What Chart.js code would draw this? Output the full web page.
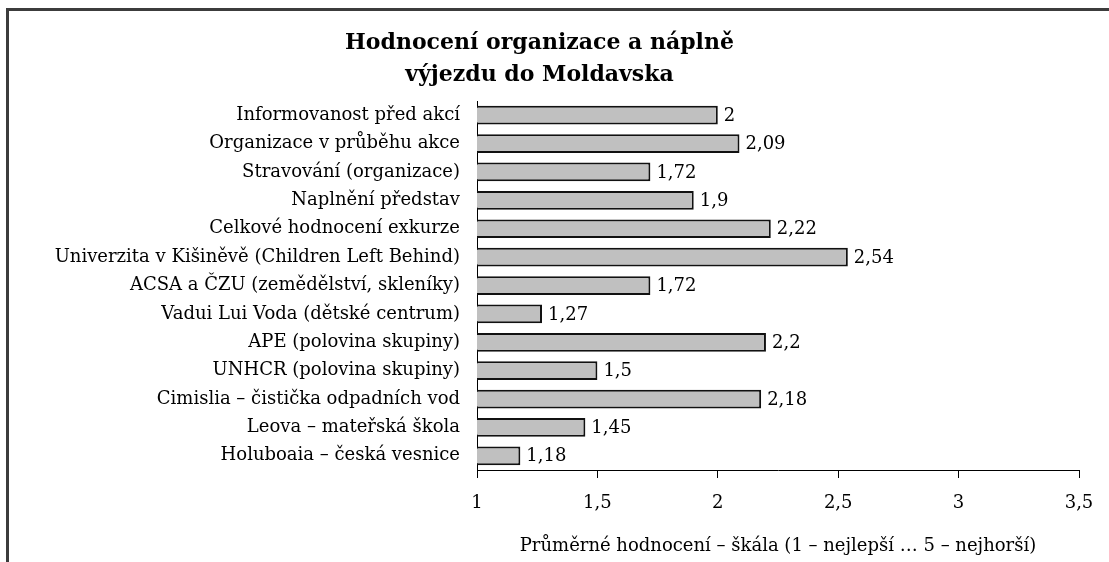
<!DOCTYPE html>
<html>
<head>
<meta charset="utf-8">
<script src="https://cdn.jsdelivr.net/npm/chart.js@4/dist/chart.umd.min.js"></script>
<style>
  html, body { margin: 0; padding: 0; background: #fff; overflow: hidden; width: 1109px; height: 562px; }
  #chart { position: absolute; left: 0; top: 0; }
  #ramecek { position: absolute; left: 6px; top: 8px; width: 1200px; height: 700px; border: 3px solid #3c3c3c; pointer-events: none; }
</style>
</head>
<body>
<canvas id="chart" width="1136" height="562"></canvas>
<div id="ramecek"></div>
<script>
// kategorie (shora dolů) a průměrné hodnocení
const kategorie = [
    'Informovanost před akcí',
    'Organizace v průběhu akce',
    'Stravování (organizace)',
    'Naplnění představ',
    'Celkové hodnocení exkurze',
    'Univerzita v Kišiněvě (Children Left Behind)',
    'ACSA a ČZU (zemědělství, skleníky)',
    'Vadui Lui Voda (dětské centrum)',
    'APE (polovina skupiny)',
    'UNHCR (polovina skupiny)',
    'Cimislia – čistička odpadních vod',
    'Leova – mateřská škola',
    'Holuboaia – česká vesnice'
];
const hodnoceni = [2, 2.09, 1.72, 1.9, 2.22, 2.54, 1.72, 1.27, 2.2, 1.5, 2.18, 1.45, 1.18];
const osaX = [1, 1.5, 2, 2.5, 3, 3.5];

const titulek = ['Hodnocení organizace a náplně', 'výjezdu do Moldavska'];
const popisOsy = 'Průměrné hodnocení – škála (1 – nejlepší … 5 – nejhorší)';

const pismo = "'DejaVu Serif', 'Liberation Serif', serif";
const carka = v => String(v).replace('.', ',');

/* popisky hodnot vpravo od sloupců */
const popiskyHodnot = {
    id: 'popiskyHodnot',
    afterDatasetsDraw(chart) {
        const ctx = chart.ctx;
        const meta = chart.getDatasetMeta(0);
        ctx.save();
        ctx.font = '18px ' + pismo;
        ctx.fillStyle = '#000';
        ctx.textAlign = 'left';
        ctx.textBaseline = 'middle';
        meta.data.forEach((bar, i) => {
            ctx.fillText(carka(hodnoceni[i]), bar.x + 6, bar.y + 1);
        });
        ctx.restore();
    }
};

const ctx = document.querySelector('#chart').getContext('2d');
new Chart(ctx, {
    type: 'bar',
    data: {
        labels: kategorie,
        datasets: [{
            data: hodnoceni,
            backgroundColor: '#c0c0c0',
            borderColor: '#111',
            borderWidth: 2,
            borderSkipped: false,
            categoryPercentage: 1,
            barPercentage: 0.66
        }]
    },
    plugins: [popiskyHodnot],
    options: {
        indexAxis: 'y',
        responsive: false,
        animation: false,
        layout: { padding: { left: 0, right: 57, top: 0, bottom: 0 } },
        plugins: {
            legend: { display: false },
            tooltip: { enabled: false },
            title: {
                display: true,
                text: titulek,
                color: '#000',
                font: { family: pismo, size: 22, weight: 'bold', lineHeight: 1.455 },
                padding: { top: 27, bottom: 10 }
            }
        },
        scales: {
            x: {
                type: 'linear',
                min: 1,
                max: 3.5,
                afterBuildTicks: scale => { scale.ticks = osaX.map(v => ({ value: v })); },
                afterFit: scale => { scale.height = 92; },
                grid: { drawOnChartArea: false, drawTicks: true, tickLength: 8, color: '#000', lineWidth: 1 },
                border: { display: true, color: '#000', width: 1 },
                ticks: {
                    color: '#000',
                    padding: 15,
                    font: { family: pismo, size: 18 },
                    callback: v => carka(v)
                },
                title: {
                    display: true,
                    text: popisOsy,
                    color: '#000',
                    font: { family: pismo, size: 18 },
                    padding: { top: 0, bottom: 5 }
                }
            },
            y: {
                afterFit: scale => { scale.width = 477; },
                grid: { display: false, drawTicks: false },
                border: { display: true, color: '#000', width: 1 },
                ticks: {
                    color: '#000',
                    padding: 17,
                    autoSkip: false,
                    font: { family: pismo, size: 18 }
                }
            }
        }
    }
});
</script>
</body>
</html>
